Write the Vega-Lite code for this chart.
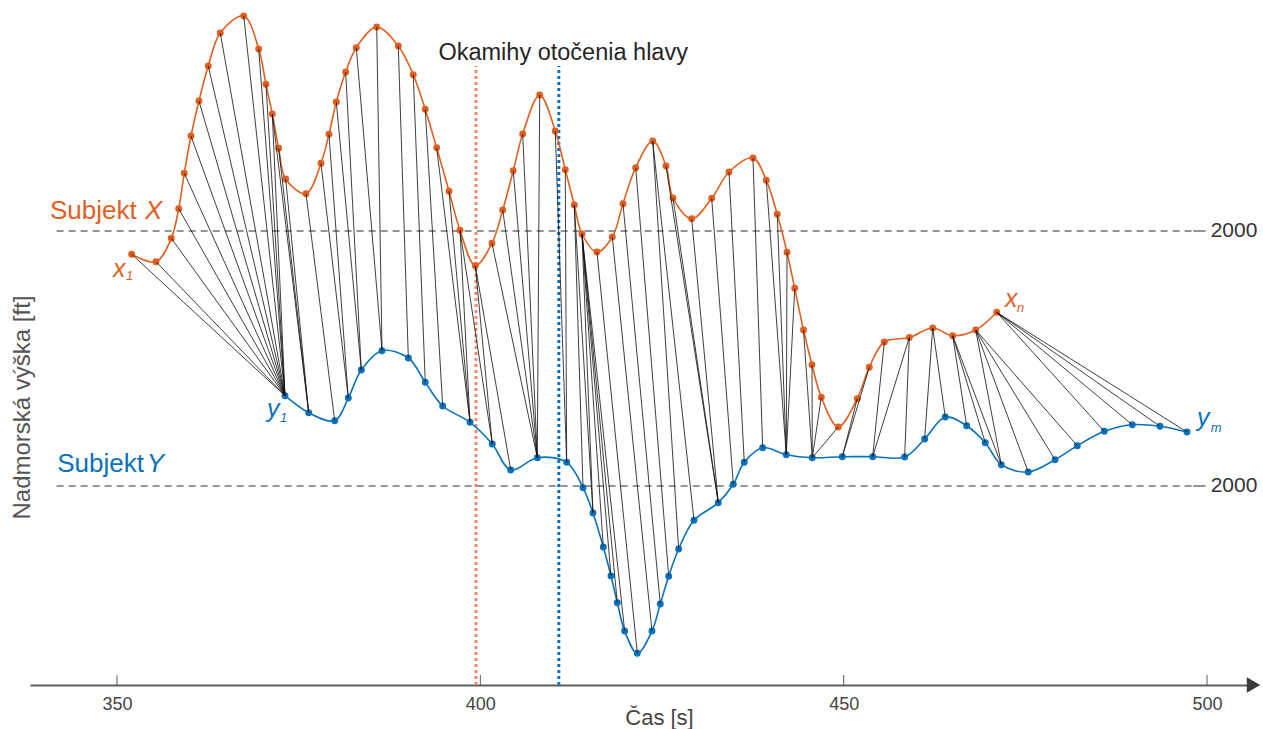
{
  "$schema": "https://vega.github.io/schema/vega-lite/v6.json",
  "width": 1225,
  "height": 685,
  "autosize": "none",
  "padding": {"left": 30, "top": 0, "right": 8, "bottom": 44},
  "background": "white",
  "config": {"view": {"stroke": null}, "font": "Liberation Sans"},
  "datasets": {
    "profily": [
      {"id": "X1", "subjekt": "X", "t": 352.02, "alt": 2231.7},
      {"id": "X2", "subjekt": "X", "t": 355.37, "alt": 2224.3},
      {"id": "X3", "subjekt": "X", "t": 357.47, "alt": 2247.7},
      {"id": "X4", "subjekt": "X", "t": 358.49, "alt": 2277.3},
      {"id": "X5", "subjekt": "X", "t": 359.26, "alt": 2312.7},
      {"id": "X6", "subjekt": "X", "t": 360.18, "alt": 2350},
      {"id": "X7", "subjekt": "X", "t": 361.28, "alt": 2385},
      {"id": "X8", "subjekt": "X", "t": 362.56, "alt": 2420},
      {"id": "X9", "subjekt": "X", "t": 364.21, "alt": 2453},
      {"id": "X10", "subjekt": "X", "t": 367.44, "alt": 2470},
      {"id": "X11", "subjekt": "X", "t": 369.5, "alt": 2437},
      {"id": "X12", "subjekt": "X", "t": 370.5, "alt": 2401.7},
      {"id": "X13", "subjekt": "X", "t": 371.37, "alt": 2372},
      {"id": "X14", "subjekt": "X", "t": 372.25, "alt": 2337.7},
      {"id": "X15", "subjekt": "X", "t": 373.21, "alt": 2307},
      {"id": "X16", "subjekt": "X", "t": 376.01, "alt": 2292.3},
      {"id": "X17", "subjekt": "X", "t": 378.07, "alt": 2322.7},
      {"id": "X18", "subjekt": "X", "t": 379.17, "alt": 2351.7},
      {"id": "X19", "subjekt": "X", "t": 380.18, "alt": 2384},
      {"id": "X20", "subjekt": "X", "t": 381.47, "alt": 2414},
      {"id": "X21", "subjekt": "X", "t": 382.93, "alt": 2438.3},
      {"id": "X22", "subjekt": "X", "t": 385.74, "alt": 2459},
      {"id": "X23", "subjekt": "X", "t": 388.71, "alt": 2440},
      {"id": "X24", "subjekt": "X", "t": 390.77, "alt": 2411.3},
      {"id": "X25", "subjekt": "X", "t": 392.42, "alt": 2376.7},
      {"id": "X26", "subjekt": "X", "t": 393.99, "alt": 2338.3},
      {"id": "X27", "subjekt": "X", "t": 395.69, "alt": 2294.7},
      {"id": "X28", "subjekt": "X", "t": 397.2, "alt": 2255.7},
      {"id": "X29", "subjekt": "X", "t": 399.31, "alt": 2220.3},
      {"id": "X30", "subjekt": "X", "t": 401.6, "alt": 2242.7},
      {"id": "X31", "subjekt": "X", "t": 403.08, "alt": 2276},
      {"id": "X32", "subjekt": "X", "t": 404.53, "alt": 2315.3},
      {"id": "X33", "subjekt": "X", "t": 405.83, "alt": 2352},
      {"id": "X34", "subjekt": "X", "t": 408.17, "alt": 2391},
      {"id": "X35", "subjekt": "X", "t": 410.31, "alt": 2355},
      {"id": "X36", "subjekt": "X", "t": 411.69, "alt": 2316.3},
      {"id": "X37", "subjekt": "X", "t": 412.93, "alt": 2281},
      {"id": "X38", "subjekt": "X", "t": 413.99, "alt": 2252},
      {"id": "X39", "subjekt": "X", "t": 416.05, "alt": 2234},
      {"id": "X40", "subjekt": "X", "t": 418.16, "alt": 2249},
      {"id": "X41", "subjekt": "X", "t": 419.63, "alt": 2282.3},
      {"id": "X42", "subjekt": "X", "t": 421.38, "alt": 2318.3},
      {"id": "X43", "subjekt": "X", "t": 423.72, "alt": 2345},
      {"id": "X44", "subjekt": "X", "t": 425.55, "alt": 2320},
      {"id": "X45", "subjekt": "X", "t": 426.51, "alt": 2288},
      {"id": "X46", "subjekt": "X", "t": 429.08, "alt": 2267.3},
      {"id": "X47", "subjekt": "X", "t": 431.84, "alt": 2287.7},
      {"id": "X48", "subjekt": "X", "t": 434.22, "alt": 2314},
      {"id": "X49", "subjekt": "X", "t": 437.52, "alt": 2328},
      {"id": "X50", "subjekt": "X", "t": 439.35, "alt": 2305.7},
      {"id": "X51", "subjekt": "X", "t": 440.86, "alt": 2271.7},
      {"id": "X52", "subjekt": "X", "t": 442.2, "alt": 2233.7},
      {"id": "X53", "subjekt": "X", "t": 443.26, "alt": 2197.7},
      {"id": "X54", "subjekt": "X", "t": 444.47, "alt": 2156},
      {"id": "X55", "subjekt": "X", "t": 445.64, "alt": 2121.3},
      {"id": "X56", "subjekt": "X", "t": 446.92, "alt": 2088.7},
      {"id": "X57", "subjekt": "X", "t": 449.25, "alt": 2059},
      {"id": "X58", "subjekt": "X", "t": 451.87, "alt": 2087.3},
      {"id": "X59", "subjekt": "X", "t": 453.52, "alt": 2118.7},
      {"id": "X60", "subjekt": "X", "t": 455.59, "alt": 2144},
      {"id": "X61", "subjekt": "X", "t": 459.03, "alt": 2148.5},
      {"id": "X62", "subjekt": "X", "t": 462.25, "alt": 2158},
      {"id": "X63", "subjekt": "X", "t": 465.0, "alt": 2150.3},
      {"id": "X64", "subjekt": "X", "t": 468.17, "alt": 2156},
      {"id": "X65", "subjekt": "X", "t": 471.06, "alt": 2173.7},
      {"id": "Y1", "subjekt": "Y", "t": 373.12, "alt": 2090.3},
      {"id": "Y2", "subjekt": "Y", "t": 376.38, "alt": 2073.3},
      {"id": "Y3", "subjekt": "Y", "t": 379.96, "alt": 2065.3},
      {"id": "Y4", "subjekt": "Y", "t": 381.83, "alt": 2088},
      {"id": "Y5", "subjekt": "Y", "t": 383.62, "alt": 2116},
      {"id": "Y6", "subjekt": "Y", "t": 386.47, "alt": 2135.3},
      {"id": "Y7", "subjekt": "Y", "t": 390.09, "alt": 2128},
      {"id": "Y8", "subjekt": "Y", "t": 392.42, "alt": 2103.7},
      {"id": "Y9", "subjekt": "Y", "t": 394.82, "alt": 2080},
      {"id": "Y10", "subjekt": "Y", "t": 398.58, "alt": 2063.7},
      {"id": "Y11", "subjekt": "Y", "t": 401.64, "alt": 2042},
      {"id": "Y12", "subjekt": "Y", "t": 404.18, "alt": 2016},
      {"id": "Y13", "subjekt": "Y", "t": 407.84, "alt": 2028.3},
      {"id": "Y14", "subjekt": "Y", "t": 411.88, "alt": 2023.7},
      {"id": "Y15", "subjekt": "Y", "t": 414.13, "alt": 1998.3},
      {"id": "Y16", "subjekt": "Y", "t": 415.5, "alt": 1973},
      {"id": "Y17", "subjekt": "Y", "t": 416.92, "alt": 1939},
      {"id": "Y18", "subjekt": "Y", "t": 417.98, "alt": 1910},
      {"id": "Y19", "subjekt": "Y", "t": 418.85, "alt": 1883.3},
      {"id": "Y20", "subjekt": "Y", "t": 419.86, "alt": 1855},
      {"id": "Y21", "subjekt": "Y", "t": 421.6, "alt": 1832.7},
      {"id": "Y22", "subjekt": "Y", "t": 423.62, "alt": 1855},
      {"id": "Y23", "subjekt": "Y", "t": 424.76, "alt": 1882},
      {"id": "Y24", "subjekt": "Y", "t": 425.92, "alt": 1909.7},
      {"id": "Y25", "subjekt": "Y", "t": 427.29, "alt": 1937},
      {"id": "Y26", "subjekt": "Y", "t": 429.4, "alt": 1965.7},
      {"id": "Y27", "subjekt": "Y", "t": 432.74, "alt": 1983.3},
      {"id": "Y28", "subjekt": "Y", "t": 434.81, "alt": 2001.7},
      {"id": "Y29", "subjekt": "Y", "t": 436.32, "alt": 2023.7},
      {"id": "Y30", "subjekt": "Y", "t": 438.85, "alt": 2038.3},
      {"id": "Y31", "subjekt": "Y", "t": 442.1, "alt": 2031.3},
      {"id": "Y32", "subjekt": "Y", "t": 445.68, "alt": 2028.3},
      {"id": "Y33", "subjekt": "Y", "t": 449.81, "alt": 2029.3},
      {"id": "Y34", "subjekt": "Y", "t": 453.99, "alt": 2029.3},
      {"id": "Y35", "subjekt": "Y", "t": 458.39, "alt": 2029},
      {"id": "Y36", "subjekt": "Y", "t": 461.14, "alt": 2047},
      {"id": "Y37", "subjekt": "Y", "t": 463.98, "alt": 2069},
      {"id": "Y38", "subjekt": "Y", "t": 466.92, "alt": 2060.3},
      {"id": "Y39", "subjekt": "Y", "t": 469.48, "alt": 2043.3},
      {"id": "Y40", "subjekt": "Y", "t": 471.69, "alt": 2021.3},
      {"id": "Y41", "subjekt": "Y", "t": 475.4, "alt": 2014},
      {"id": "Y42", "subjekt": "Y", "t": 479.08, "alt": 2026.3},
      {"id": "Y43", "subjekt": "Y", "t": 482.15, "alt": 2040.3},
      {"id": "Y44", "subjekt": "Y", "t": 485.86, "alt": 2054.7},
      {"id": "Y45", "subjekt": "Y", "t": 489.71, "alt": 2061.3},
      {"id": "Y46", "subjekt": "Y", "t": 493.52, "alt": 2059.7},
      {"id": "Y47", "subjekt": "Y", "t": 497.24, "alt": 2054}
    ],
    "zarovnanie": [
      {"x": "X1", "y": "Y1"}, {"x": "X2", "y": "Y1"}, {"x": "X3", "y": "Y1"},
      {"x": "X4", "y": "Y1"}, {"x": "X5", "y": "Y1"}, {"x": "X6", "y": "Y1"},
      {"x": "X7", "y": "Y1"}, {"x": "X8", "y": "Y1"}, {"x": "X9", "y": "Y1"},
      {"x": "X10", "y": "Y1"}, {"x": "X11", "y": "Y1"}, {"x": "X12", "y": "Y1"},
      {"x": "X13", "y": "Y1"}, {"x": "X13", "y": "Y2"}, {"x": "X14", "y": "Y2"},
      {"x": "X15", "y": "Y2"}, {"x": "X16", "y": "Y3"}, {"x": "X17", "y": "Y4"},
      {"x": "X18", "y": "Y4"}, {"x": "X19", "y": "Y5"}, {"x": "X20", "y": "Y5"},
      {"x": "X21", "y": "Y6"}, {"x": "X22", "y": "Y6"}, {"x": "X23", "y": "Y7"},
      {"x": "X24", "y": "Y8"}, {"x": "X25", "y": "Y9"}, {"x": "X26", "y": "Y10"},
      {"x": "X27", "y": "Y10"}, {"x": "X28", "y": "Y10"}, {"x": "X28", "y": "Y11"},
      {"x": "X29", "y": "Y11"}, {"x": "X29", "y": "Y12"}, {"x": "X30", "y": "Y13"},
      {"x": "X31", "y": "Y13"}, {"x": "X32", "y": "Y13"}, {"x": "X33", "y": "Y13"},
      {"x": "X34", "y": "Y13"}, {"x": "X35", "y": "Y14"}, {"x": "X36", "y": "Y14"},
      {"x": "X37", "y": "Y15"}, {"x": "X37", "y": "Y16"}, {"x": "X38", "y": "Y16"},
      {"x": "X38", "y": "Y17"}, {"x": "X38", "y": "Y18"}, {"x": "X38", "y": "Y19"},
      {"x": "X38", "y": "Y20"}, {"x": "X39", "y": "Y21"}, {"x": "X40", "y": "Y22"},
      {"x": "X41", "y": "Y23"}, {"x": "X42", "y": "Y24"}, {"x": "X43", "y": "Y25"},
      {"x": "X43", "y": "Y26"}, {"x": "X44", "y": "Y27"}, {"x": "X45", "y": "Y27"},
      {"x": "X46", "y": "Y27"}, {"x": "X47", "y": "Y28"}, {"x": "X48", "y": "Y29"},
      {"x": "X49", "y": "Y30"}, {"x": "X50", "y": "Y31"}, {"x": "X51", "y": "Y31"},
      {"x": "X52", "y": "Y31"}, {"x": "X53", "y": "Y31"}, {"x": "X54", "y": "Y32"},
      {"x": "X55", "y": "Y32"}, {"x": "X56", "y": "Y32"}, {"x": "X57", "y": "Y32"},
      {"x": "X58", "y": "Y33"}, {"x": "X59", "y": "Y33"}, {"x": "X60", "y": "Y34"},
      {"x": "X61", "y": "Y34"}, {"x": "X61", "y": "Y35"}, {"x": "X62", "y": "Y36"},
      {"x": "X62", "y": "Y37"}, {"x": "X63", "y": "Y38"}, {"x": "X63", "y": "Y39"},
      {"x": "X63", "y": "Y40"}, {"x": "X64", "y": "Y40"}, {"x": "X64", "y": "Y41"},
      {"x": "X64", "y": "Y42"}, {"x": "X64", "y": "Y43"}, {"x": "X65", "y": "Y44"},
      {"x": "X65", "y": "Y45"}, {"x": "X65", "y": "Y46"}, {"x": "X65", "y": "Y47"}
    ]
  },
  "encoding": {
    "x": {
      "field": "t", "type": "quantitative",
      "scale": {"domain": [338.03, 506.6], "nice": false, "zero": false},
      "axis": {
        "values": [350, 400, 450, 500], "grid": false, "ticks": false,
        "domainColor": "#5e5e5e", "domainWidth": 2,
        "labelFontSize": 18, "labelColor": "#444444", "labelPadding": 10, "labelFont": "Liberation Sans",
        "title": "Čas [s]", "titleFontSize": 22, "titleFontWeight": "normal", "titleColor": "#444444",
        "titleFont": "Liberation Sans", "titleX": 629, "titleY": 32, "titleBaseline": "middle"
      }
    },
    "y": {
      "field": "alt", "type": "quantitative",
      "scale": {"domain": [1801, 2486], "nice": false, "zero": false},
      "axis": {
        "domain": false, "ticks": false, "labels": false, "grid": false,
        "title": "Nadmorská výška [ft]", "titleFontSize": 24, "titleFontWeight": "normal", "titleColor": "#555555",
        "titleFont": "Liberation Sans", "titleX": -8, "titleY": 407, "titleBaseline": "middle", "titleAngle": -90
      }
    }
  },
  "layer": [
    {
      "data": {"values": [
        {"t": 341.7, "t2": 498.1, "alt": 2255},
        {"t": 341.7, "t2": 498.1, "alt": 2000}
      ]},
      "mark": {"type": "rule", "color": "#2b2b2b", "strokeWidth": 1, "strokeDash": [7, 5]},
      "encoding": {"x2": {"field": "t2"}}
    },
    {
      "data": {"values": [
        {"t": 498.1, "t2": 499.8, "alt": 2255},
        {"t": 498.1, "t2": 499.8, "alt": 2000}
      ]},
      "mark": {"type": "rule", "color": "#2b2b2b", "strokeWidth": 1},
      "encoding": {"x2": {"field": "t2"}}
    },
    {
      "data": {"values": [{"t": 399.4, "alt": 1801, "alt2": 2420}]},
      "mark": {"type": "rule", "color": "#F08A6A", "strokeWidth": 3, "strokeDash": [3, 3]},
      "encoding": {"y2": {"field": "alt2"}}
    },
    {
      "data": {"values": [{"t": 410.8, "alt": 1801, "alt2": 2420}]},
      "mark": {"type": "rule", "color": "#0A72C0", "strokeWidth": 3, "strokeDash": [3, 3]},
      "encoding": {"y2": {"field": "alt2"}}
    },
    {
      "data": {"name": "profily"},
      "mark": {"type": "line", "strokeWidth": 1.6, "interpolate": "catmull-rom"},
      "encoding": {
        "color": {"field": "subjekt", "type": "nominal", "scale": {"domain": ["X", "Y"], "range": ["#E2601F", "#0A72BA"]}, "legend": null},
        "order": {"field": "t", "type": "quantitative"}
      }
    },
    {
      "data": {"name": "profily"},
      "mark": {"type": "circle", "size": 48, "opacity": 1},
      "encoding": {
        "color": {"field": "subjekt", "type": "nominal", "scale": {"domain": ["X", "Y"], "range": ["#E2601F", "#0A72BA"]}, "legend": null}
      }
    },
    {
      "data": {"name": "zarovnanie"},
      "transform": [
        {"lookup": "x", "from": {"data": {"name": "profily"}, "key": "id", "fields": ["t", "alt"]}, "as": ["t", "alt"]},
        {"lookup": "y", "from": {"data": {"name": "profily"}, "key": "id", "fields": ["t", "alt"]}, "as": ["t2", "alt2"]}
      ],
      "mark": {"type": "rule", "color": "#111111", "strokeWidth": 0.9, "opacity": 0.9},
      "encoding": {"x2": {"field": "t2"}, "y2": {"field": "alt2"}}
    },
    {
      "data": {"values": [
        {"t": 350, "alt": 1801, "alt2": 1811}, {"t": 400, "alt": 1801, "alt2": 1811},
        {"t": 450, "alt": 1801, "alt2": 1811}, {"t": 500, "alt": 1801, "alt2": 1811}
      ]},
      "mark": {"type": "rule", "color": "#5e5e5e", "strokeWidth": 1},
      "encoding": {"y2": {"field": "alt2"}}
    },
    {
      "data": {"values": [{"t": 506.4, "alt": 1801}]},
      "mark": {"type": "point", "shape": "triangle-right", "filled": true, "size": 240, "color": "#3a3a3a", "opacity": 1}
    },
    {
      "data": {"values": [{"label": "Okamihy otočenia hlavy", "t": 411.4, "alt": 2433}]},
      "mark": {"type": "text", "fontSize": 23.5, "color": "#262626", "align": "center", "baseline": "middle", "font": "Liberation Sans"},
      "encoding": {"text": {"field": "label"}}
    },
    {
      "data": {"values": [
        {"label": "2000", "t": 500.5, "alt": 2255},
        {"label": "2000", "t": 500.5, "alt": 2000}
      ]},
      "mark": {"type": "text", "fontSize": 21, "color": "#333333", "align": "left", "baseline": "middle", "font": "Liberation Sans"},
      "encoding": {"text": {"field": "label"}}
    },
    {
      "data": {"values": [
        {"subjekt": "X", "label": "Subjekt", "t": 340.78, "alt": 2266.7},
        {"subjekt": "Y", "label": "Subjekt", "t": 341.78, "alt": 2014.3}
      ]},
      "mark": {"type": "text", "fontSize": 26, "align": "left", "baseline": "alphabetic", "font": "Liberation Sans"},
      "encoding": {
        "text": {"field": "label"},
        "color": {"field": "subjekt", "type": "nominal", "scale": {"domain": ["X", "Y"], "range": ["#E2601F", "#0A72BA"]}, "legend": null}
      }
    },
    {
      "data": {"values": [
        {"subjekt": "X", "label": "X", "t": 353.85, "alt": 2266.7},
        {"subjekt": "Y", "label": "Y", "t": 354.09, "alt": 2014.3}
      ]},
      "mark": {"type": "text", "fontSize": 26, "fontStyle": "italic", "align": "left", "baseline": "alphabetic", "font": "Liberation Sans"},
      "encoding": {
        "text": {"field": "label"},
        "color": {"field": "subjekt", "type": "nominal", "scale": {"domain": ["X", "Y"], "range": ["#E2601F", "#0A72BA"]}, "legend": null}
      }
    },
    {
      "data": {"values": [
        {"subjekt": "X", "label": "x", "t": 349.45, "alt": 2209},
        {"subjekt": "Y", "label": "y", "t": 370.64, "alt": 2069},
        {"subjekt": "X", "label": "x", "t": 472.19, "alt": 2179},
        {"subjekt": "Y", "label": "y", "t": 498.62, "alt": 2060}
      ]},
      "mark": {"type": "text", "fontSize": 25, "fontStyle": "italic", "align": "left", "baseline": "alphabetic", "font": "Liberation Sans"},
      "encoding": {
        "text": {"field": "label"},
        "color": {"field": "subjekt", "type": "nominal", "scale": {"domain": ["X", "Y"], "range": ["#E2601F", "#0A72BA"]}, "legend": null}
      }
    },
    {
      "data": {"values": [
        {"subjekt": "X", "label": "1", "t": 351.24, "alt": 2206},
        {"subjekt": "Y", "label": "1", "t": 372.43, "alt": 2064},
        {"subjekt": "X", "label": "n", "t": 473.85, "alt": 2174},
        {"subjekt": "Y", "label": "m", "t": 500.5, "alt": 2054}
      ]},
      "mark": {"type": "text", "fontSize": 13, "fontStyle": "italic", "align": "left", "baseline": "alphabetic", "font": "Liberation Sans"},
      "encoding": {
        "text": {"field": "label"},
        "color": {"field": "subjekt", "type": "nominal", "scale": {"domain": ["X", "Y"], "range": ["#E2601F", "#0A72BA"]}, "legend": null}
      }
    }
  ]
}
